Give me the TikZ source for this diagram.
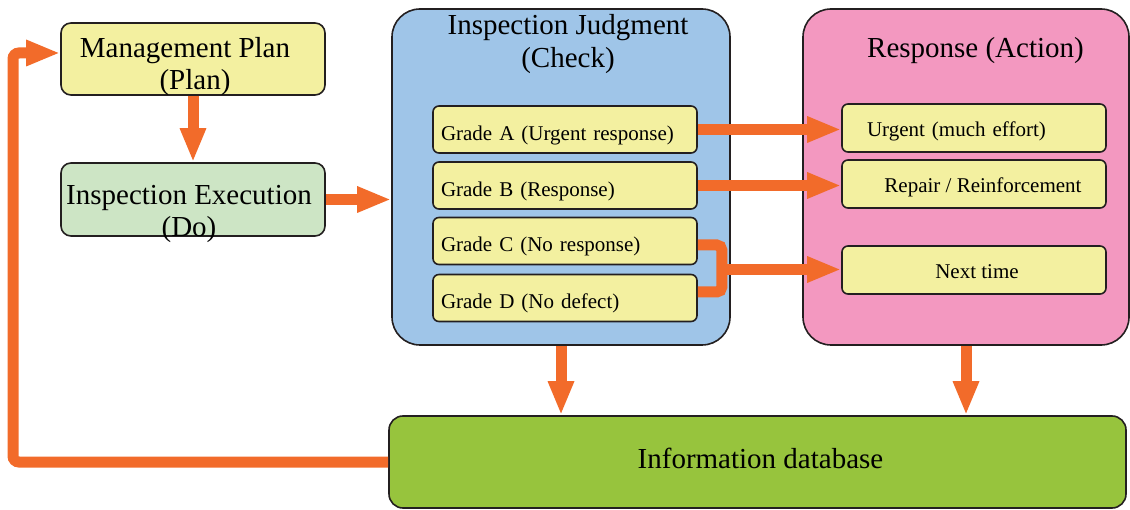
\documentclass[tikz,border=0pt]{standalone}
\usepackage{fontspec}
\setmainfont{Liberation Serif}
\usetikzlibrary{arrows.meta,calc}
\definecolor{yel}{RGB}{243,240,160}
\definecolor{dogreen}{RGB}{205,229,197}
\definecolor{chkblue}{RGB}{159,197,232}
\definecolor{actpink}{RGB}{243,152,192}
\definecolor{dbgreen}{RGB}{151,196,61}
\definecolor{orng}{RGB}{242,107,42}
\definecolor{edgec}{RGB}{35,31,32}
\begin{document}
\begin{tikzpicture}[x=1pt,y=-1pt,
  box/.style={draw=edgec, line width=1.6pt, inner sep=0pt},
  ttl/.style={font=\fontsize{29}{32}\selectfont, inner sep=0pt},
  grade/.style={box, fill=yel, rounded corners=6pt, minimum height=47pt,
    text width=248pt, align=left, inner xsep=8pt, text height=26pt, text depth=4pt,
    font=\fontsize{21}{24}\selectfont},
  actbox/.style={box, fill=yel, rounded corners=6pt, minimum width=264pt, minimum height=48pt,
    text height=22pt, text depth=5pt, font=\fontsize{21}{24}\selectfont},
  arr/.style={draw=orng, line width=11pt, -{Triangle[length=34pt,width=24pt]}},
  conn/.style={draw=orng, line width=11pt}
]
\useasboundingbox (0,0) rectangle (1130,510);

% left column
\node[box, fill=yel, rounded corners=10pt, minimum width=264pt, minimum height=72pt] (plan) at (193,59) {};
\node[ttl, anchor=base] (planT1) at (185,58) {Management Plan};
\node[ttl, anchor=base] (planT2) at (195,90) {(Plan)};
\node[box, fill=dogreen, rounded corners=10pt, minimum width=264pt, minimum height=73pt] (do) at (193,199.5) {};
\node[ttl, anchor=base] (doT1) at (189,205) {Inspection Execution};
\node[ttl, anchor=base] (doT2) at (189,237) {(Do)};

% check column
\node[box, fill=chkblue, rounded corners=28pt, minimum width=338pt, minimum height=336pt] (judg) at (561,177) {};
\node[ttl, anchor=base] (judgT1) at (568,35) {Inspection Judgment};
\node[ttl, anchor=base] (judgT2) at (568,68) {(Check)};
\node[grade] (gA) at (565,129.5) {Grade A (Urgent response)};
\node[grade] (gB) at (565,185.5) {Grade B (Response)};
\node[grade] (gC) at (565,241) {Grade C (No response)};
\node[grade] (gD) at (565,298) {Grade D (No defect)};

% action column
\node[box, fill=actpink, rounded corners=28pt, minimum width=326pt, minimum height=336pt] (resp) at (966,177) {};
\node[ttl, anchor=base] (respT) at (975.5,58) {Response (Action)};
\node[actbox, text width=214pt, align=left, inner xsep=25pt] (urg) at (974,128) {Urgent (much effort)};
\node[actbox] (rep) at (974,184) {\hspace*{18pt}Repair / Reinforcement};
\node[actbox] (nxt) at (974,270) {\hspace*{6pt}Next time};

% database
\node[box, fill=dbgreen, rounded corners=14pt, minimum width=737pt, minimum height=92pt] (info) at (757.5,462) {};
\node[ttl, anchor=base] (infoT) at (760.5,468) {Information database};

% connectors
\draw[arr] (plan.south) -- (do.north);
\draw[arr] (do.east) -- (do.east -| judg.west);
\draw[arr] (gA.east) -- (gA.east -| urg.west);
\draw[arr] (gB.east) -- (gB.east -| rep.west);
\coordinate (brk) at ($(gC.east)!0.5!(gD.east)+(24,0)$);
\draw[conn, rounded corners=5pt] ([yshift=-4pt]gC.east) -| (brk) |- ([yshift=6pt]gD.east);
\draw[arr] (brk) -- (brk -| nxt.west);
\draw[arr] (judg.south) -- (judg.south |- info.north);
\draw[arr] (resp.south) -- (resp.south |- info.north);
\coordinate (fb) at (13,300);
\draw[arr, rounded corners=6pt] (info.west) -| (fb) |- ([yshift=6pt]plan.west);
\end{tikzpicture}
\end{document}
